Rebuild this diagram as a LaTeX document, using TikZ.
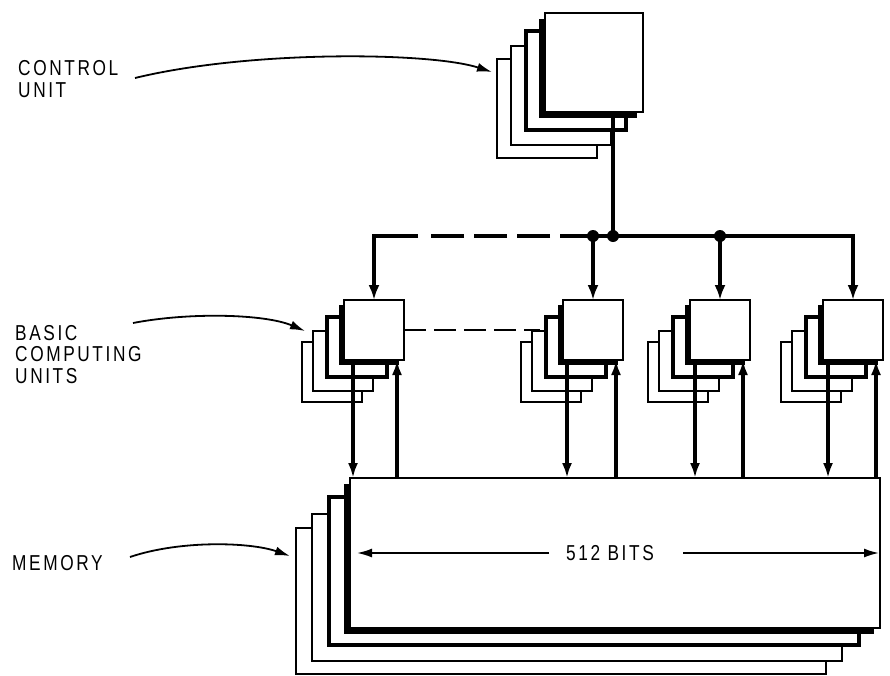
\documentclass[tikz,border=0pt]{standalone}
\usepackage{fontspec}
\setmainfont{Liberation Sans}[FakeStretch=0.8,LetterSpace=12]
\usetikzlibrary{arrows.meta,shadows}
\begin{document}
\begin{tikzpicture}[x=1pt,y=-1pt,
 lbl/.style={font=\fontsize{21.6}{22.5}\selectfont, align=left, anchor=north west, inner sep=0pt},
 unitbox/.style={draw, fill=white, inner sep=0pt, outer sep=0pt, anchor=north west},
 frontbox/.style={unitbox, line width=2.2pt, drop shadow={opacity=1, fill=black, shadow xshift=-#1, shadow yshift=-#1}},
 backA/.style={unitbox, line width=3.6pt},
 backB/.style={unitbox, line width=2.6pt},
 backC/.style={unitbox, line width=1.5pt},
 cusz/.style={minimum width=98pt, minimum height=99pt},
 bcusz/.style={minimum width=60pt, minimum height=60pt},
 memsz/.style={minimum width=530pt, minimum height=150pt},
 conn/.style={line width=3.4pt, -{Latex[length=15pt,width=10pt]}},
 busline/.style={line width=4.2pt},
 busarr/.style={busline, -{Latex[length=15pt,width=11pt]}},
 thinarr/.style={line width=1.8pt, -{Latex[length=15pt,width=9pt]}},
 thindash/.style={line width=1.5pt, dash pattern=on 22pt off 8pt},
 junction/.style={circle, fill=black, inner sep=0pt, minimum size=12pt},
]
\useasboundingbox (0,0) rectangle (890,675);

% ---------- control unit stack
\node[backC, cusz, minimum width=100pt] (cu3) at (497,59) {};
\node[backB, cusz, minimum width=100pt] (cu2) at (511,46) {};
\node[backA, cusz, minimum width=100pt] (cu1) at (526,31) {};
\node[frontbox=6pt, cusz] (cu) at (545,13) {};

% ---------- basic computing units
\foreach \n/\x in {1/344,2/563,3/690,4/823}{
  \node[backC, bcusz] (b\n c) at (\x-42,342) {};
  \node[backB, bcusz] (b\n b) at (\x-31,331) {};
  \node[backA, bcusz] (b\n a) at (\x-17,317) {};
  \node[frontbox=5pt, bcusz] (b\n) at (\x,300) {};
}

% ---------- memory stack
\node[backC, memsz, minimum height=146pt] (m3) at (296,528) {};
\node[backB, memsz, minimum height=147pt] (m2) at (312,514) {};
\node[backA, memsz, minimum height=148pt] (m1) at (329,497) {};
\node[frontbox=6pt, memsz] (mem) at (350,478) {};

% ---------- labels
\node[lbl] (lcu) at (18,60) {CONTROL\\UNIT};
\node[lbl, font=\fontsize{21.6}{21.6}\selectfont] (lbcu) at (15,325) {BASIC\\COMPUTING\\UNITS};
\node[lbl] (lmem) at (12,555) {MEMORY};
\node[lbl, anchor=center] (bits) at ([xshift=-5pt]mem.center) {512 BITS};

% ---------- label arrows
\coordinate (cuS) at (135,78);  \coordinate (cuT) at (492,72);
\coordinate (bcS) at (133,323); \coordinate (bcT) at (305,331);
\coordinate (mmS) at (130,557); \coordinate (mmT) at (290,556);
\draw[thinarr] (cuS) .. controls (250,50) and (430,52) .. (cuT);
\draw[thinarr] (bcS) .. controls (190,312) and (265,314) .. (bcT);
\draw[thinarr] (mmS) .. controls (180,540) and (250,542) .. (mmT);

% ---------- 512 bits arrows
\draw[thinarr] ([xshift=-17pt]bits.west) -- ([xshift=7pt]mem.west |- bits.west);
\draw[thinarr] ([xshift=29pt]bits.east) -- ([xshift=-1pt]mem.east |- bits.east);

% ---------- dashed link between first two units
\draw[thindash] (b1.east) -- ([xshift=-6pt]b1.east -| b2a.west);

% ---------- bus
\coordinate (busy) at (0,236);
\coordinate (dashA) at (418,236);
\coordinate (dashB) at (428,236);
\coordinate (j1) at (b2.north |- busy);
\coordinate (j2) at (613,236);
\coordinate (j3) at (b3.north |- busy);
\draw[line width=3.4pt] (j2 |- cu.south) -- (j2);
\draw[busarr] (dashA) -- (b1.north |- busy) -- (b1.north);
\draw[busline, dash pattern=on 33pt off 10pt] (j1) -- (dashB);
\draw[busarr] (j1) -- (b4.north |- busy) -- (b4.north);
\draw[busarr] (j1) -- (b2.north);
\draw[busarr] (j3) -- (b3.north);
\node[junction] (d1) at (j1) {};
\node[junction] (d2) at (j2) {};
\node[junction] (d3) at (j3) {};

% ---------- unit <-> memory connectors
\foreach \n/\d in {1/9,2/4,3/5,4/5}{
  \draw[conn] ([xshift=\d pt]b\n.south west) -- ([xshift=\d pt]b\n.south west |- mem.north);
  \draw[conn] ([xshift=53pt]b\n.south west |- mem.north) -- ([xshift=53pt]b\n.south west);
}
\end{tikzpicture}
\end{document}
